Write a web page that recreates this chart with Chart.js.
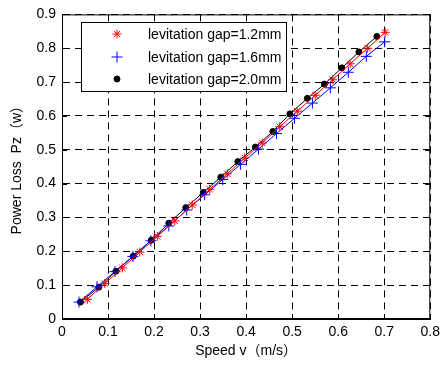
<!DOCTYPE html>
<html>
<head>
<meta charset="utf-8">
<script src="https://cdn.jsdelivr.net/npm/chart.js@4.4.1/dist/chart.umd.min.js"></script>
<style>
  body { margin: 0; background: #fff; }
  canvas { display: block; }
</style>
</head>
<body>
<canvas id="lossChart" width="445" height="365"></canvas>
<script>
// datos
const speed12 = [0.055, 0.093, 0.131, 0.169, 0.207, 0.245, 0.283, 0.321, 0.359, 0.397, 0.435, 0.473, 0.511, 0.550, 0.588, 0.626, 0.664, 0.702];
const loss12  = [0.058, 0.105, 0.151, 0.198, 0.244, 0.290, 0.337, 0.383, 0.429, 0.476, 0.520, 0.568, 0.614, 0.661, 0.707, 0.754, 0.800, 0.847];
const speed16 = [0.037, 0.076, 0.115, 0.154, 0.193, 0.232, 0.271, 0.310, 0.349, 0.388, 0.427, 0.466, 0.505, 0.544, 0.583, 0.622, 0.661, 0.701];
const loss16  = [0.050, 0.095, 0.140, 0.185, 0.231, 0.275, 0.322, 0.367, 0.412, 0.457, 0.502, 0.548, 0.593, 0.638, 0.683, 0.729, 0.776, 0.819];
const speed20 = [0.040, 0.080, 0.117, 0.155, 0.194, 0.232, 0.269, 0.307, 0.345, 0.382, 0.420, 0.458, 0.495, 0.533, 0.570, 0.608, 0.645, 0.684];
const loss20  = [0.050, 0.094, 0.141, 0.186, 0.233, 0.283, 0.329, 0.374, 0.419, 0.465, 0.508, 0.554, 0.606, 0.652, 0.694, 0.742, 0.789, 0.835];
const seriesLabels = ['levitation gap=1.2mm', 'levitation gap=1.6mm', 'levitation gap=2.0mm'];
const xTicks = [0, 0.1, 0.2, 0.3, 0.4, 0.5, 0.6, 0.7, 0.8];
const yTicks = [0, 0.1, 0.2, 0.3, 0.4, 0.5, 0.6, 0.7, 0.8, 0.9];

const FONT = "Arial, 'Liberation Sans', 'Noto Sans CJK SC', sans-serif";

function pts(xs, ys) {
    return xs.map((x, i) => ({ x: x, y: ys[i] }));
}

// caja, marcas interiores y leyenda dentro del grafico
const matlabBox = {
    id: 'matlabBox',
    afterDraw(chart) {
        const c = chart.ctx;
        const a = chart.chartArea;
        const sx = chart.scales.x, sy = chart.scales.y;
        c.save();
        c.strokeStyle = '#000';
        c.lineWidth = 1;
        c.setLineDash([]);
        c.strokeRect(a.left + 0.5, a.top + 0.5, a.right - a.left - 1, a.bottom - a.top - 1);
        c.beginPath();
        xTicks.forEach(v => {
            const px = Math.round(sx.getPixelForValue(v)) + 0.5;
            c.moveTo(px, a.bottom); c.lineTo(px, a.bottom - 5);
            c.moveTo(px, a.top); c.lineTo(px, a.top + 5);
        });
        yTicks.forEach(v => {
            const py = Math.round(sy.getPixelForValue(v)) + 0.5;
            c.moveTo(a.left, py); c.lineTo(a.left + 5, py);
            c.moveTo(a.right, py); c.lineTo(a.right - 5, py);
        });
        c.stroke();

        // leyenda
        c.fillStyle = '#fff';
        c.fillRect(81, 22, 206, 70);
        c.strokeRect(81.5, 22.5, 205, 69);
        const rows = [34, 57, 79];
        c.font = '14px ' + FONT;
        c.textBaseline = 'middle';
        chart.data.datasets.forEach((ds, i) => {
            c.strokeStyle = ds.borderColor;
            c.fillStyle = ds.pointBackgroundColor;
            c.lineWidth = 1;
            Chart.helpers.drawPoint(c, {
                pointStyle: ds.pointStyle,
                radius: ds.pointRadius,
                rotation: 0,
                borderWidth: 1
            }, 117, rows[i]);
            c.fillStyle = '#000';
            c.fillText(ds.label, 148, rows[i] + 1);
        });
        c.restore();
    }
};

const ctx = document.getElementById('lossChart').getContext('2d');
const lossChart = new Chart(ctx, {
    type: 'scatter',
    data: {
        datasets: [{
            label: seriesLabels[0],
            data: pts(speed12, loss12),
            showLine: true,
            borderColor: '#ff0000',
            backgroundColor: '#ff0000',
            pointBackgroundColor: '#ff0000',
            pointBorderColor: '#ff0000',
            pointStyle: 'star',
            pointRadius: 4.5,
            borderWidth: 1
        }, {
            label: seriesLabels[1],
            data: pts(speed16, loss16),
            showLine: true,
            borderColor: '#0000ff',
            backgroundColor: '#0000ff',
            pointBackgroundColor: '#0000ff',
            pointBorderColor: '#0000ff',
            pointStyle: 'cross',
            pointRadius: 5.5,
            borderWidth: 1
        }, {
            label: seriesLabels[2],
            data: pts(speed20, loss20),
            showLine: true,
            borderColor: '#000000',
            backgroundColor: '#000000',
            pointBackgroundColor: '#000000',
            pointBorderColor: '#000000',
            pointStyle: 'circle',
            pointRadius: 3,
            borderWidth: 1
        }]
    },
    options: {
        responsive: false,
        animation: false,
        layout: { padding: { top: 10, right: 11, left: 0, bottom: 0 } },
        plugins: {
            legend: { display: false },
            tooltip: { enabled: false }
        },
        scales: {
            x: {
                type: 'linear',
                min: 0,
                max: 0.8,
                afterBuildTicks: s => { s.ticks = xTicks.map(v => ({ value: v })); },
                afterFit: s => { s.height = 46; },
                ticks: {
                    color: '#000',
                    font: { family: FONT, size: 14 },
                    padding: 5,
                    maxRotation: 0,
                    callback: v => String(v)
                },
                grid: { color: '#000', lineWidth: 1, drawTicks: false },
                border: { display: true, color: '#000', dash: [7, 5] },
                title: {
                    display: true,
                    text: 'Speed v（m/s）',
                    color: '#000',
                    font: { family: FONT, size: 14 },
                    padding: { top: 0, bottom: 5 }
                }
            },
            y: {
                type: 'linear',
                min: 0,
                max: 0.9,
                afterBuildTicks: s => { s.ticks = yTicks.map(v => ({ value: v })); },
                afterFit: s => { s.width = 62; },
                ticks: {
                    color: '#000',
                    font: { family: FONT, size: 14 },
                    padding: 6,
                    callback: v => String(v)
                },
                grid: { color: '#000', lineWidth: 1, drawTicks: false },
                border: { display: true, color: '#000', dash: [7, 5] },
                title: {
                    display: true,
                    text: 'Power Loss  Pz（w）',
                    color: '#000',
                    font: { family: FONT, size: 14 },
                    padding: { top: 9, bottom: 0 }
                }
            }
        }
    },
    plugins: [matlabBox]
});
</script>
</body>
</html>
